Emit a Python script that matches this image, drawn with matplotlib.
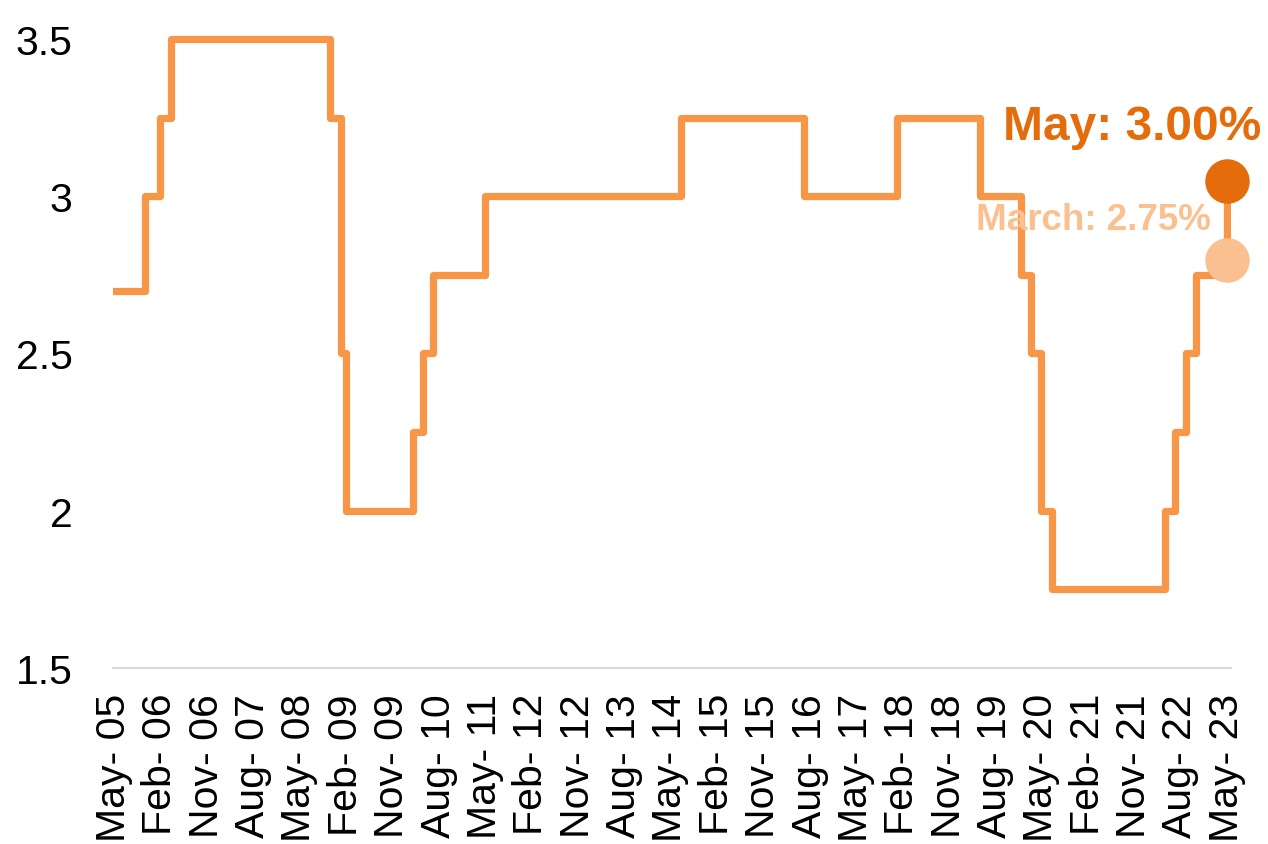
import pandas as pd
import numpy as np
import matplotlib.pyplot as plt
from matplotlib.transforms import offset_copy

plt.rcParams['font.family'] = ['Liberation Sans', 'DejaVu Sans']

# Policy rate: month each level took effect, and the level (%)
change_months = ['2005-04', '2005-11', '2006-02', '2006-04', '2008-11', '2009-01',
                 '2009-02', '2010-03', '2010-05', '2010-07', '2011-05', '2014-07',
                 '2016-07', '2018-01', '2019-05', '2020-01', '2020-03', '2020-05',
                 '2020-07', '2022-05', '2022-07', '2022-09', '2022-11', '2023-05']
rates = [2.70, 3.00, 3.25, 3.50, 3.25, 2.50, 2.00, 2.25, 2.50, 2.75, 3.00, 3.25,
         3.00, 3.25, 3.00, 2.75, 2.50, 2.00, 1.75, 2.00, 2.25, 2.50, 2.75, 3.00]

# Highlighted readings
march_month, march_rate = '2023-05', 2.75
may_month, may_rate = '2023-05', 3.00

first_month = pd.Period('2005-05', freq='M')
last_month = pd.Period('2023-05', freq='M')
tick_step = 9

def month_pos(m):
    return (pd.Period(m, freq='M') - first_month).n

x = [month_pos(m) for m in change_months]

fig = plt.figure(figsize=(12.68, 8.45), dpi=100)
ax = fig.add_axes([0.0891, 0.2083, 0.8817, 0.7817])

line_col = '#F79646'
ax.plot(x, rates, drawstyle='steps-post', color=line_col, lw=5.2,
        solid_joinstyle='round', zorder=2)

# markers sit a little above their level so they read clearly against the line
lift = offset_copy(ax.transData, fig=fig, x=0, y=15, units='dots')
ax.plot(month_pos(march_month), march_rate, 'o', ms=31, color='#FAC090',
        transform=lift, clip_on=False, zorder=3)
ax.plot(month_pos(may_month), may_rate, 'o', ms=31, color='#E46C0A',
        transform=lift, clip_on=False, zorder=4)

ax.annotate(f'May: {may_rate:.2f}%', xy=(month_pos(may_month), may_rate),
            xytext=(34, 57), textcoords='offset pixels', ha='right', va='baseline',
            fontsize=34.5, fontweight='bold', color='#E46C0A', zorder=5)
ax.annotate(f'March: {march_rate:.2f}%', xy=(month_pos(march_month), march_rate),
            xytext=(-16, 46), textcoords='offset pixels', ha='right', va='baseline',
            fontsize=26.5, fontweight='bold', color='#FAC090', zorder=5)

ax.set_xlim(-0.2, 216.8)
ax.set_ylim(1.5, 3.6)

n_months = (last_month - first_month).n
ticks = np.arange(0, n_months + 1, tick_step)
labels = [(first_month + int(t)).strftime('%b- %y') for t in ticks]
ax.set_xticks(ticks)
ax.set_xticklabels(labels, rotation=90, va='top', ha='center')
ax.set_yticks([1.5, 2, 2.5, 3, 3.5])
ax.set_yticklabels(['1.5', '2', '2.5', '3', '3.5'])

ax.tick_params(axis='x', length=0, pad=18, labelsize=29.5)
ax.tick_params(axis='y', length=0, pad=29, labelsize=29.5)

for side in ['top', 'right', 'left']:
    ax.spines[side].set_visible(False)
ax.spines['bottom'].set_color('#D9D9D9')
ax.spines['bottom'].set_linewidth(1.5)

fig.savefig('out.png', dpi=100)
